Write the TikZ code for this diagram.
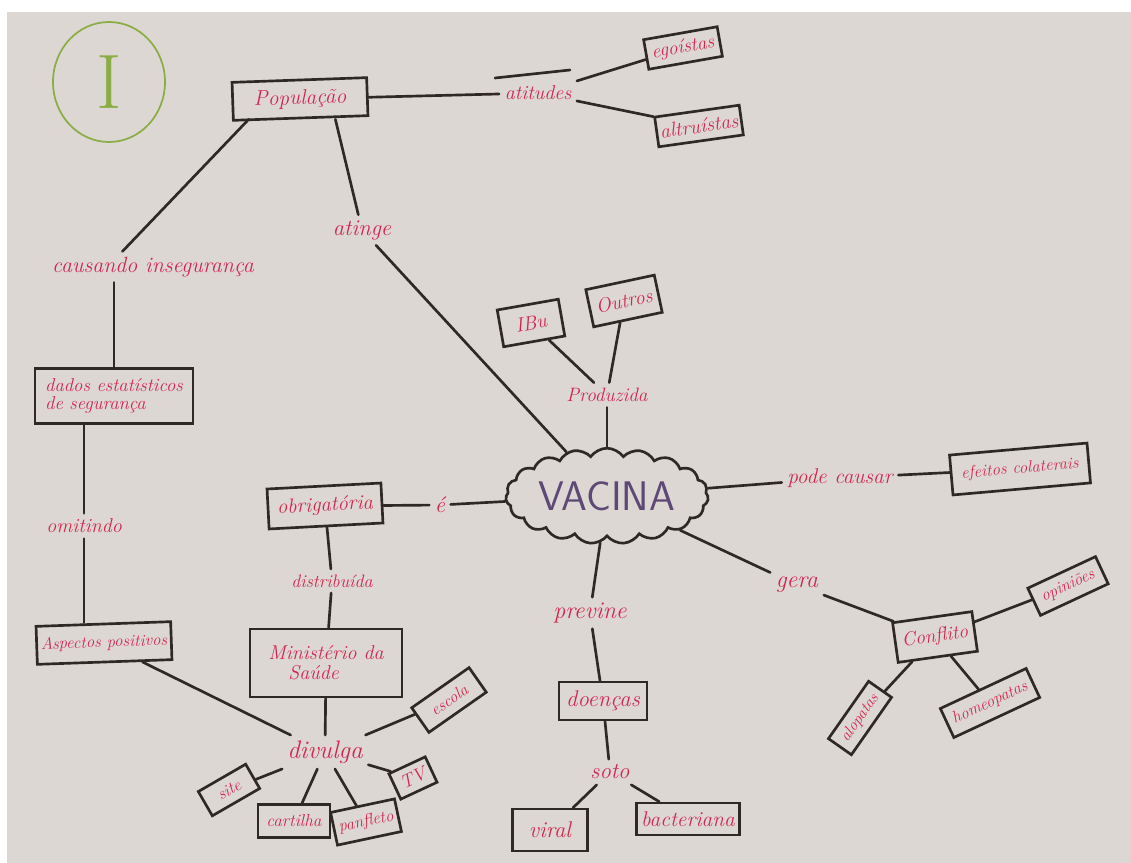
\documentclass[tikz,border=0pt]{standalone}
\usepackage{fontspec}
\usetikzlibrary{shapes.geometric,shapes.symbols}
\definecolor{paper}{HTML}{DDD7D3}
\definecolor{ink}{HTML}{2E2926}
\definecolor{marker}{HTML}{D1264F}
\definecolor{vacina}{HTML}{5E4876}
\definecolor{leaf}{HTML}{8AAE45}
% handwriting-like size helper
\newcommand\hand[1]{\itshape\fontsize{#1}{#1}\selectfont}
\begin{document}
\begin{tikzpicture}[x=0.75pt,y=-0.75pt,
  box/.style={draw=ink, line width=2pt, text=marker, inner sep=2pt, align=center, font=\hand{14}},
  lbl/.style={text=marker, inner sep=4pt, font=\hand{15}},
  link/.style={draw=ink, line width=2pt, line cap=round}]
\useasboundingbox (0,0) rectangle (1131,863);
\fill[white] (0,0) rectangle (1131,863);
\fill[paper] (7,12) rectangle (1131,863);

% page number in its circle
\node[ellipse, draw=leaf, line width=1.3pt, minimum width=84pt, minimum height=90pt,
  text=leaf, font=\fontsize{58}{58}\selectfont, inner sep=0pt] (num) at (109,82) {I};

% central concept
\node[cloud, draw=ink, line width=2pt, cloud puffs=19, cloud puff arc=110, aspect=2.4,
  minimum width=152pt, minimum height=64pt, inner sep=0pt, text=vacina,
  font=\sffamily\fontsize{31}{31}\selectfont] (vac) at (607,496) {VACINA};

% upper branch
\node[box, font=\hand{16}, minimum width=101pt, minimum height=28.5pt, rotate=2] (pop) at (300,99) {População};
\node[lbl] (atit) at (538,93) {atitudes};
\node[box, font=\hand{14.5}, minimum width=56pt, minimum height=22.5pt, rotate=10] (ego) at (683,48) {egoístas};
\node[box, font=\hand{15}, minimum width=64pt, minimum height=22.5pt, rotate=8] (alt) at (699,126) {altruístas};
\node[lbl, font=\hand{17}] (ating) at (362,230) {atinge};
\coordinate (ov1) at (495,78);
\coordinate (ov2) at (570,70);

% left column
\node[lbl, font=\hand{16.5}] (caus) at (153,267) {causando insegurança};
\node[box, font=\hand{14}, minimum width=118.5pt, minimum height=41pt, align=left] (dados) at (114,396)
  {dados estatísticos\\de segurança};
\node[lbl] (omit) at (84,526) {omitindo};
\node[box, font=\hand{12.5}, minimum width=101pt, minimum height=28.5pt, rotate=2] (asp) at (104,643) {Aspectos positivos};

% obligation and distribution
\node[lbl, font=\hand{17}] (e) at (440,505) {é};
\node[box, font=\hand{15.5}, minimum width=85.5pt, minimum height=30pt, rotate=3] (obr) at (325,506) {obrigatória};
\node[lbl, font=\hand{13.5}] (dist) at (332,581) {distribuída};
\node[box, font=\hand{15}, minimum width=114pt, minimum height=51pt, align=left] (min) at (326,663) {Ministério da\\\quad Saúde};
\node[lbl, font=\hand{19}] (div) at (325,752) {divulga};
\node[box, font=\hand{12.5}, minimum width=52.5pt, minimum height=22.5pt, rotate=35] (esc) at (449,700) {escola};
\node[box, font=\hand{12.5}, minimum width=41pt, minimum height=21pt, rotate=30] (site) at (229,790) {site};
\node[box, font=\hand{13}, minimum width=54pt, minimum height=25pt] (cart) at (294,821) {cartilha};
\node[box, font=\hand{12.5}, minimum width=49pt, minimum height=25pt, rotate=12] (panf) at (366,822) {panfleto};
\node[box, font=\hand{14}, minimum width=30pt, minimum height=21pt, rotate=25] (tv) at (413,778) {TV};

% producers
\node[lbl, font=\hand{14.5}] (prod) at (607,395) {Produzida};
\node[box, font=\hand{15}, minimum width=46.5pt, minimum height=28pt, rotate=10] (ibu) at (531,323) {IBu};
\node[box, font=\hand{15}, minimum width=52.5pt, minimum height=28.5pt, rotate=12] (out) at (624,301) {Outros};

% side effects and conflict
\node[lbl, font=\hand{16}] (pode) at (840,478) {pode causar};
\node[box, font=\hand{12.5}, minimum width=103.5pt, minimum height=30pt, rotate=5] (efe) at (1020,469) {efeitos colaterais};
\node[lbl, font=\hand{18}] (gera) at (797,585) {gera};
\node[box, font=\hand{14.5}, minimum width=60pt, minimum height=30pt, rotate=8] (conf) at (935,637) {Conflito};
\node[box, font=\hand{12.5}, minimum width=56pt, minimum height=22.5pt, rotate=25] (opi) at (1068,586) {opiniões};
\node[box, font=\hand{12}, minimum width=52.5pt, minimum height=21pt, rotate=55] (alo) at (860,718) {alopatas};
\node[box, font=\hand{12.5}, minimum width=71pt, minimum height=24pt, rotate=25] (hom) at (990,703) {homeopatas};

% diseases
\node[lbl, font=\hand{18}] (prev) at (590,613) {previne};
\node[box, font=\hand{17}, minimum width=66pt, minimum height=28.5pt] (doe) at (603,701) {doenças};
\node[lbl, font=\hand{17}] (soto) at (610,772) {soto};
\node[box, font=\hand{17}, minimum width=56pt, minimum height=31.5pt] (viral) at (550,830) {viral};
\node[box, font=\hand{16}, minimum width=77pt, minimum height=24pt] (bact) at (688,819) {bacteriana};

% connectors
\draw[link] (pop) -- (atit);
\draw[link] (ov1) -- (ov2);
\draw[link] (atit) -- (ego);
\draw[link] (atit) -- (alt);
\draw[link] ([xshift=26pt]pop.south) -- (ating);
\draw[link] (ating) -- (vac);
\draw[link] ([xshift=-39pt]pop.south) -- ([xshift=-23pt]caus.north);
\draw[link] (caus.south -| dados.north) -- (dados.north);
\draw[link] (dados.south -| omit) -- (omit);
\draw[link] (omit) -- (omit |- asp.north);
\draw[link] (asp) -- (div);
\draw[link] (vac) -- (e);
\draw[link] (e) -- (obr);
\draw[link] (obr) -- (dist);
\draw[link] (dist) -- (min);
\draw[link] (min) -- (div);
\draw[link] (div) -- (esc);
\draw[link] (div) -- (site);
\draw[link] (div) -- (cart);
\draw[link] (div) -- (panf);
\draw[link] (div) -- (tv);
\draw[link] (vac) -- (prod);
\draw[link] (prod) -- (ibu);
\draw[link] (prod) -- (out);
\draw[link] (vac) -- (pode);
\draw[link] (pode) -- (efe);
\draw[link] (vac) -- (gera);
\draw[link] (gera) -- (conf);
\draw[link] (conf) -- (opi);
\draw[link] (conf) -- (alo);
\draw[link] (conf) -- (hom);
\draw[link] (vac) -- (prev);
\draw[link] (prev) -- (doe);
\draw[link] (doe) -- (soto);
\draw[link] (soto) -- (viral);
\draw[link] (soto) -- (bact);
\end{tikzpicture}
\end{document}
